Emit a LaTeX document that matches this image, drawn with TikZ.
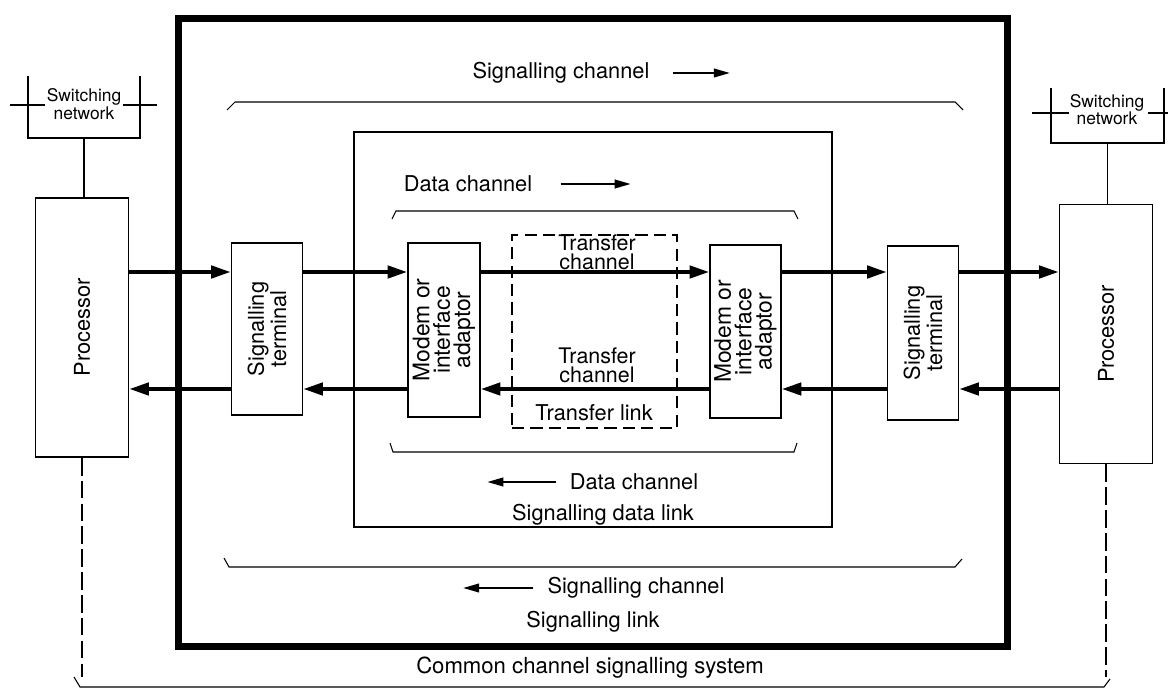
\documentclass[tikz,border=0pt]{standalone}
\usepackage{fontspec}
\setmainfont{TeX Gyre Heros}
\usepackage{tikz}
\usetikzlibrary{arrows.meta,positioning}
\tikzset{
    box/.style={draw, line width=1.1pt, inner sep=0mm},
    boxV/.style={box, minimum width=1.42cm, minimum height=3.46cm},
    procbox/.style={box, minimum width=1.86cm, minimum height=5.18cm},
    boxtext/.style={rotate=90, align=center, inner sep=0mm, font=\fontsize{12.4}{12.6}\selectfont},
    modtext/.style={rotate=90, align=center, inner sep=0mm, font=\fontsize{13}{11.6}\selectfont},
    lbl/.style={inner sep=0pt, font=\fontsize{12.4}{13}\selectfont},
    trtext/.style={align=center, inner sep=0pt, font=\fontsize{12.2}{10.9}\selectfont},
    swnet/.style={inner sep=0pt, minimum width=2.23cm},
    swtext/.style={align=center, inner sep=0pt, font=\fontsize{9.9}{9.9}\selectfont},
    sig/.style={line width=2pt, -{Triangle[length=11pt,width=7pt]}},
    lblarrow/.style={line width=0.8pt, -{Triangle[length=9pt,width=5pt]}},
    brack/.style={line width=0.6pt},
    sysline/.style={line width=0.8pt, dash pattern=on 10pt off 3pt},
    node distance=1.5
}
\begin{document}
\begin{tikzpicture}[x=0.02cm,y=-0.02cm]
	\useasboundingbox (0,0) rectangle (1171,689);

	\node[draw, line width=4pt, minimum width=16.6cm, minimum height=12.58cm] (slink) at (593,332.5) {};
	\node[draw, line width=0.8pt, minimum width=9.56cm, minimum height=7.9cm] (sdl) at (593,329.5) {};
	\node[box, dash pattern=on 7pt off 3.5pt, minimum width=3.3cm, minimum height=3.86cm] (tlink) at (594.5,331.5) {};

	\node[procbox] (lproc) at (82,327.5) {};
	\node[boxtext, font=\fontsize{12.4}{12.6}\selectfont] (lproctxt) at (lproc) {Processor};
	\node[procbox] (rproc) at (1106,334) {};
	\node[boxtext, font=\fontsize{12.4}{12.6}\selectfont] (rproctxt) at (rproc) {Processor};

	\node[boxV, minimum height=3.44cm] (lterm) at (267,329) {};
	\node[boxtext] (ltermtxt) at (lterm) {Signalling\\terminal};
	\node[boxV, minimum height=3.48cm] (rterm) at (923,333) {};
	\node[boxtext] (rtermtxt) at (rterm) {Signalling\\terminal};

	\node[boxV, minimum width=1.44cm, minimum height=3.48cm] (lmod) at (444,330) {};
	\node[modtext] (lmodtxt) at (lmod) {Modem or\\interface\\adaptor};
	\node[boxV] (rmod) at (745.5,331.5) {};
	\node[modtext] (rmodtxt) at (rmod) {Modem or\\interface\\adaptor};

	\node[swnet, minimum height=1.24cm] (lsw) at (84,107) {};
	\node[swtext] (lswtxt) at (84,104) {Switching\\network};
	\draw[line width=1.1pt] (lsw.north west) -- (lsw.south west) -- (lsw.south east) -- (lsw.north east);
	\draw[line width=1.6pt] ([shift={(-18,-2)}]lsw.west) -- ([shift={(17,-2)}]lsw.west);
	\draw[line width=1.6pt] ([shift={(-17,-2)}]lsw.east) -- ([shift={(17,-2)}]lsw.east);
	\draw[line width=0.9pt] (lsw.south) -- (lsw.south |- lproc.north);

	\node[swnet, minimum height=1.1cm] (rsw) at (1107.5,115.5) {};
	\node[swtext] (rswtxt) at (1107,109.5) {Switching\\network};
	\draw[line width=1.1pt] (rsw.north west) -- (rsw.south west) -- (rsw.south east) -- (rsw.north east);
	\draw[line width=1.6pt] ([shift={(-19,-2.5)}]rsw.west) -- ([shift={(18,-2.5)}]rsw.west);
	\draw[line width=1.6pt] ([shift={(-16,-2.5)}]rsw.east) -- ([shift={(4,-2.5)}]rsw.east);
	\draw[line width=0.9pt] (rsw.south) -- (rsw.south |- rproc.north);

	\coordinate (rowhi) at (0,272);
	\coordinate (rowlo) at (0,389);
	\draw[sig] (lproc.east |- rowhi) -- (lterm.west |- rowhi);
	\draw[sig] (lterm.east |- rowhi) -- (lmod.west |- rowhi);
	\draw[sig] (lmod.east |- rowhi) -- (rmod.west |- rowhi);
	\draw[sig] (rmod.east |- rowhi) -- (rterm.west |- rowhi);
	\draw[sig] (rterm.east |- rowhi) -- (rproc.west |- rowhi);
	\draw[sig] (rproc.west |- rowlo) -- (rterm.east |- rowlo);
	\draw[sig] (rterm.west |- rowlo) -- (rmod.east |- rowlo);
	\draw[sig] (rmod.west |- rowlo) -- (lmod.east |- rowlo);
	\draw[sig] (lmod.west |- rowlo) -- (lterm.east |- rowlo);
	\draw[sig] (lterm.west |- rowlo) -- (lproc.east |- rowlo);

	\node[trtext] (trup) at (597,252) {Transfer\\channel};
	\node[trtext] (trdown) at (597,365) {Transfer\\channel};
	\node[lbl] (trlink) at (594,413) {Transfer link};

	\node[lbl] (sctop) at (561,73) {Signalling channel};
	\coordinate[right=0.46cm of sctop] (sctopa);
	\coordinate[right=1.14cm of sctopa] (sctopb);
	\draw[lblarrow] (sctopa) -- (sctopb);
	\draw[brack] (227,110) -- (235,102) -- (955,102) -- (963,110);

	\node[lbl] (dctop) at (468,184) {Data channel};
	\coordinate[right=0.56cm of dctop] (dctopa);
	\coordinate[right=1.4cm of dctopa] (dctopb);
	\draw[lblarrow] (dctopa) -- (dctopb);
	\draw[brack] (392,219) -- (396,211) -- (794,211) -- (798,219);

	\draw[brack] (390,443) -- (393,452) -- (794,452) -- (797,443);
	\node[lbl] (dcbot) at (634,482) {Data channel};
	\coordinate[left=0.26cm of dcbot] (dcbota);
	\coordinate[left=1.38cm of dcbota] (dcbotb);
	\draw[lblarrow] (dcbota) -- (dcbotb);
	\node[lbl] (sdltxt) at (603,515) {Signalling data link};

	\draw[brack] (224,558) -- (229,567) -- (955,567) -- (962,559);
	\node[lbl] (scbot) at (636,588) {Signalling channel};
	\coordinate[left=0.28cm of scbot] (scbota);
	\coordinate[left=1.4cm of scbota] (scbotb);
	\draw[lblarrow] (scbota) -- (scbotb);
	\node[lbl] (slinktxt) at (593,622) {Signalling link};

	\coordinate (sysend) at (0,677);
	\draw[sysline] (lproc.south) -- (lproc.south |- sysend);
	\draw[sysline] (rproc.south) -- (rproc.south |- sysend);
	\node[lbl, font=\fontsize{12.6}{13}\selectfont] (systxt) at (590,668) {Common channel signalling system};
	\draw[brack] (74,677) -- (80,687) -- (1104,687) -- (1110,679);
\end{tikzpicture}
\end{document}
